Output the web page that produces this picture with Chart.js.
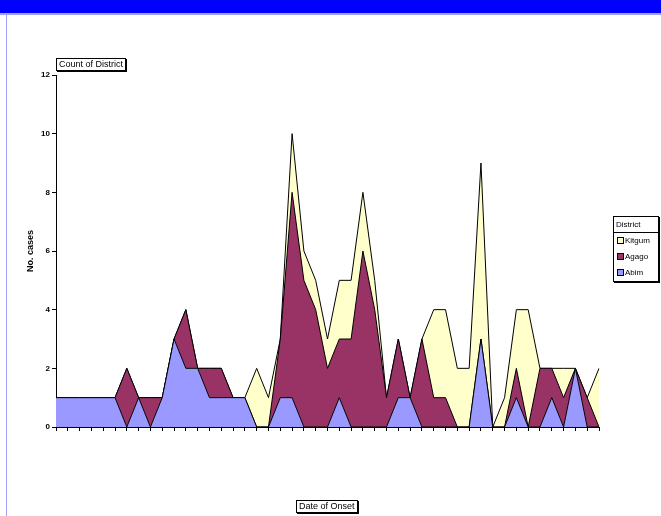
<!DOCTYPE html>
<html>
<head>
<meta charset="utf-8">
<script src="https://cdn.jsdelivr.net/npm/chart.js@4.4.1/dist/chart.umd.min.js"></script>
<style>
body { margin:0; width:661px; height:516px; overflow:hidden; background:#fff; position:relative; font-family:Arial, "Liberation Sans", sans-serif; }
#topbar { position:absolute; left:0; top:0; width:661px; height:13px; background:#0000ff; border-bottom:2px solid #a0a0ff; }
#leftline { position:absolute; left:6px; top:15px; width:1px; height:501px; background:#a0a0ff; }
#myChart { position:absolute; left:0; top:0; }
.fieldbtn { position:absolute; font-size:9px; line-height:11px; padding:0 2px; border:1px solid #000; box-shadow:1px 1px 0 #000; background:#fff; color:#000; white-space:nowrap; }
#legend { position:absolute; left:613px; top:216px; width:44px; border:1px solid #000; box-shadow:1px 1px 0 #000; background:#fff; font-size:8px; color:#000; }
#legend .head { border-bottom:1px solid #000; padding:2px 2px; line-height:11px; }
#legend .item { height:16px; line-height:16px; padding-left:3px; white-space:nowrap; }
#legend .sw { display:inline-block; width:5px; height:5px; border:1px solid #000; margin-right:1px; vertical-align:-1px; }
</style>
</head>
<body>
<div id="topbar"></div>
<div id="leftline"></div>
<canvas id="myChart" width="661" height="516"></canvas>
<div class="fieldbtn" style="left:56px; top:58px;">Count of District</div>
<div class="fieldbtn" style="left:296px; top:500px;">Date of Onset</div>
<div id="legend"></div>
<script>
'use strict';
// Categories are onset dates (labels are not shown on the chart)
const categories = ['1', '2', '3', '4', '5', '6', '7', '8', '9', '10', '11', '12', '13', '14', '15', '16',
    '17', '18', '19', '20', '21', '22', '23', '24', '25', '26', '27', '28', '29', '30', '31', '32',
    '33', '34', '35', '36', '37', '38', '39', '40', '41', '42', '43', '44', '45', '46', '47'];

// Cases per district (stacked: Abim at the bottom, Kitgum on top)
const abim   = [1, 1, 1, 1, 1, 1, 0, 1, 0, 1, 3, 2, 2, 1, 1, 1, 1, 0, 0, 1, 1, 0, 0, 0, 1, 0, 0, 0, 0, 1, 1, 0, 0, 0, 0, 0, 3, 0, 0, 1, 0, 0, 1, 0, 2, 0, 0];
const agago  = [0, 0, 0, 0, 0, 0, 2, 0, 1, 0, 0, 2, 0, 1, 1, 0, 0, 0, 0, 2, 7, 5, 4, 2, 2, 3, 6, 4, 1, 2, 0, 3, 1, 1, 0, 0, 0, 0, 0, 1, 0, 2, 1, 1, 0, 1, 0];
const kitgum = [0, 0, 0, 0, 0, 0, 0, 0, 0, 0, 0, 0, 0, 0, 0, 0, 0, 2, 1, 0, 2, 1, 1, 1, 2, 2, 2, 1, 0, 0, 0, 0, 3, 3, 2, 2, 6, 0, 1, 2, 4, 0, 0, 1, 0, 0, 2];

const seriesNames = ['Abim', 'Agago', 'Kitgum'];
const seriesColors = ['#9999ff', '#993366', '#ffffcc'];
const yTicks = [0, 2, 4, 6, 8, 10, 12];

function renderLegend() {
    // Excel lists the legend top series first
    let html = '<div class="head">District</div>';
    for (let i = seriesNames.length - 1; i >= 0; i--) {
        html += `<div class="item"><span class="sw" style="background:${seriesColors[i]}"></span>${seriesNames[i]}</div>`;
    }
    document.getElementById('legend').innerHTML = html;
}

function renderChart() {
    const ctx = document.getElementById('myChart').getContext('2d');
    const values = [abim, agago, kitgum];
    const datasets = values.map(function(data, i) {
        return {
            label: seriesNames[i],
            data: data,
            backgroundColor: seriesColors[i],
            borderColor: '#000',
            borderWidth: 1,
            pointRadius: 0,
            tension: 0,
            fill: i === 0 ? 'origin' : '-1'
        };
    });

    new Chart(ctx, {
        type: 'line',
        data: { labels: categories, datasets: datasets },
        options: {
            responsive: false,
            animation: false,
            devicePixelRatio: 1,
            layout: { padding: { top: 75, left: 20, right: 62, bottom: 0 } },
            plugins: { legend: { display: false }, tooltip: { enabled: false } },
            scales: {
                x: {
                    offset: false,
                    grid: { drawOnChartArea: false, drawTicks: true, tickLength: 4, color: '#000' },
                    border: { color: '#000', width: 1 },
                    ticks: { display: false },
                    afterFit: function(scale) { scale.height = 89; }
                },
                y: {
                    stacked: true,
                    min: 0,
                    max: 12,
                    afterBuildTicks: function(scale) { scale.ticks = yTicks.map(v => ({ value: v })); },
                    grid: { drawOnChartArea: false, drawTicks: true, tickLength: 4, color: '#000' },
                    border: { color: '#000', width: 1 },
                    ticks: { color: '#000', padding: 2, font: { family: 'Arial', size: 8, weight: 'bold' } },
                    title: { display: true, text: 'No. cases', color: '#000', padding: { top: 5, bottom: 0 },
                        font: { family: 'Arial', size: 9, weight: 'bold' } },
                    afterFit: function(scale) { scale.width = 36; }
                }
            }
        }
    });
}

renderLegend();
renderChart();
</script>
</body>
</html>
